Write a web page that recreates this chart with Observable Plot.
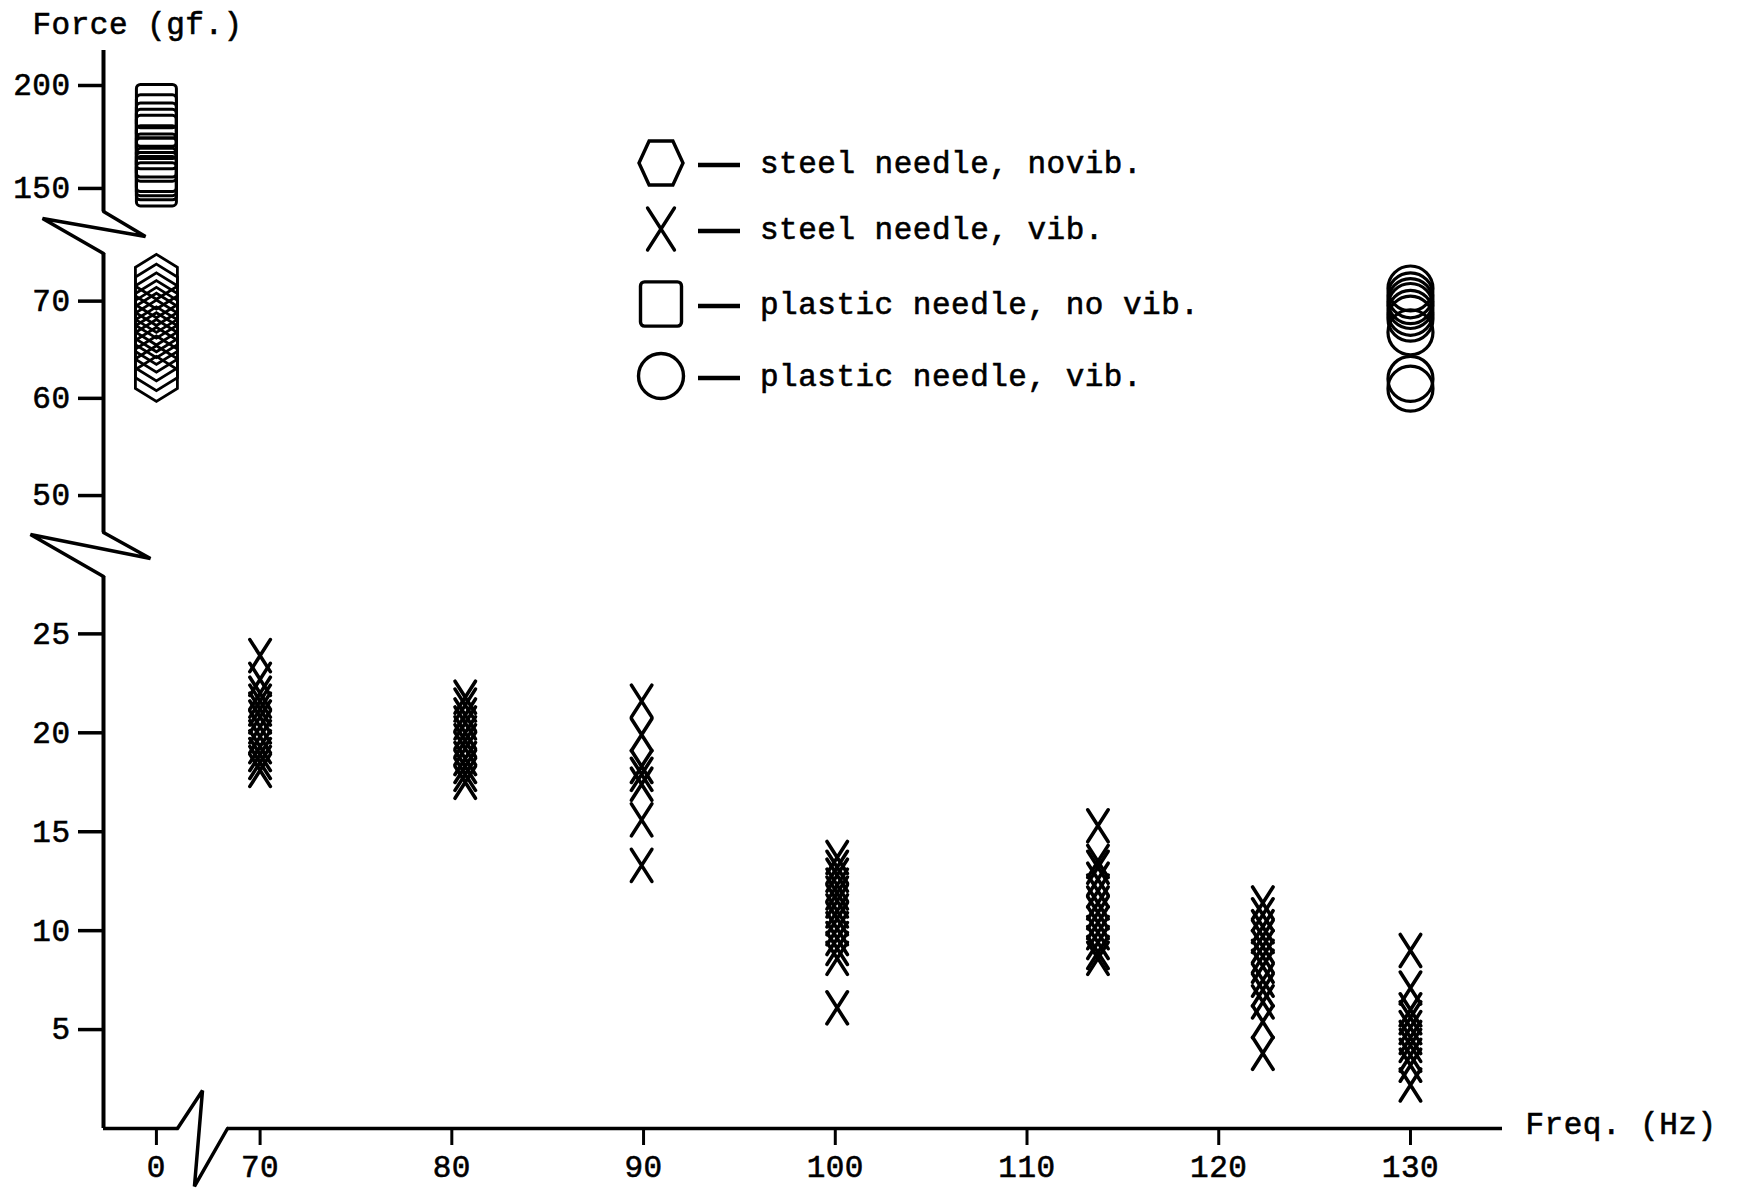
<!DOCTYPE html>
<html>
<head>
<meta charset="utf-8">
<script src="https://cdn.jsdelivr.net/npm/d3@7"></script>
<script src="https://cdn.jsdelivr.net/npm/@observablehq/plot@0.6"></script>
<style>
  html, body { margin: 0; padding: 0; background: #fff; }
  #wrap { position: relative; width: 1738px; height: 1189px; }
  svg text { letter-spacing: 0.5px; stroke: black; stroke-width: 0.6px; }
</style>
</head>
<body>
<div id="wrap"></div>
<script>
// ---------------- DATA ----------------
// steel needle, no vibration (hexagons) at 0 Hz
const steelNoVibFreq = 0;
const steelNoVibForce = [72.5, 71.5, 70.6, 69.8, 69.1, 68.5, 67.8, 67.1, 66.5, 65.8, 65.0, 64.1, 63.1, 62.0];

// plastic needle, no vibration (squares) at 0 Hz
const plasticNoVibFreq = 0;
const plasticNoVibForce = [190, 185, 181, 178, 175, 170, 166, 164, 159, 157, 155, 152];

// plastic needle, vibration (circles) at 130 Hz
const plasticVibFreq = 130;
const plasticVibForce = [71.3, 70.6, 70.0, 69.5, 68.8, 68.2, 66.8, 62.0, 61.0];

// steel needle, vibration (X) — one cluster per frequency
const steelVibFreq = [70.0, 80.7, 89.9, 100.1, 113.7, 122.3, 130.0];
const steelVibForce = [
  [23.9, 22.7, 22.0, 21.6, 21.2, 20.8, 20.3, 19.8, 19.3, 18.9, 18.5, 18.1],
  [21.8, 21.4, 20.9, 20.5, 20.0, 19.6, 19.2, 18.7, 18.3, 17.9, 17.5],
  [21.6, 19.9, 18.3, 17.9, 17.4, 15.6, 13.3],
  [13.7, 13.2, 12.8, 12.3, 11.9, 11.5, 11.0, 10.6, 10.1, 9.6, 9.1, 8.6, 6.1],
  [15.3, 13.5, 13.2, 12.6, 12.0, 11.4, 10.9, 10.4, 9.9, 9.4, 8.9, 8.6],
  [11.4, 10.8, 10.2, 9.7, 9.2, 8.7, 8.2, 7.5, 7.0, 6.4, 5.4, 3.8],
  [9.0, 7.1, 6.0, 5.6, 5.1, 4.6, 4.2, 3.7, 3.2, 2.2]
];

const xTicks = [0, 70, 80, 90, 100, 110, 120, 130];
const yTicks = [5, 10, 15, 20, 25, 50, 60, 70, 150, 200];
const legendLabels = ["steel needle, novib.", "steel needle, vib.", "plastic needle, no vib.", "plastic needle, vib."];
const xTitle = "Freq. (Hz)";
const yTitle = "Force (gf.)";

// ---------------- SCALES (broken axes as piecewise scales) ----------------
const xDomain = [-2.76, 1.1, 68.3, 134.8];
const xRange  = [103, 177, 227, 1502];
const yDomain = [0, 27.9, 46.2, 74.9, 138.8, 217];
const yRange  = [1128, 576, 532, 253, 211, 50];

const ySegments = [[0, 27.9], [46.2, 74.9], [138.8, 217]];
const xSegments = [[-2.76, 1.1], [68.3, 134.8]];
const breakUpper = [[-2.76, 138.8], [-0.57, 100.8], [-5.94, 128.1], [-2.76, 74.9]];
const breakLower = [[-2.76, 46.2], [-0.31, 35.4], [-6.57, 45.4], [-2.76, 27.9]];
const breakX     = [[1.1, 0], [34.7, 1.92], [23.9, -2.93], [68.3, 0]];

// ---------------- SYMBOLS ----------------
const tallX = { draw(ctx, size) {
  const r = Math.sqrt(size / Math.PI), w = 0.64 * r;
  ctx.moveTo(-w, -r); ctx.lineTo(w, r);
  ctx.moveTo(w, -r); ctx.lineTo(-w, r);
}};
const hexV = { draw(ctx, size) {
  const r = Math.sqrt(size / Math.PI), w = r, h = 1.07 * r, c = 0.62 * r;
  ctx.moveTo(0, -h); ctx.lineTo(w, -h + c); ctx.lineTo(w, h - c);
  ctx.lineTo(0, h); ctx.lineTo(-w, h - c); ctx.lineTo(-w, -h + c); ctx.closePath();
}};
const hexFlat = { draw(ctx, size) {
  const r = Math.sqrt(size / Math.PI), w = r, h = r, c = 0.46 * r;
  ctx.moveTo(-w, 0); ctx.lineTo(-w + c, -h); ctx.lineTo(w - c, -h);
  ctx.lineTo(w, 0); ctx.lineTo(w - c, h); ctx.lineTo(-w + c, h); ctx.closePath();
}};
const roundSquare = { draw(ctx, size) {
  const r = Math.sqrt(size / Math.PI), w = r, h = 1.08 * r, k = 0.2 * r;
  ctx.moveTo(-w + k, -h);
  ctx.lineTo(w - k, -h); ctx.arcTo(w, -h, w, -h + k, k);
  ctx.lineTo(w, h - k); ctx.arcTo(w, h, w - k, h, k);
  ctx.lineTo(-w + k, h); ctx.arcTo(-w, h, -w, h - k, k);
  ctx.lineTo(-w, -h + k); ctx.arcTo(-w, -h, -w + k, -h, k);
  ctx.closePath();
}};

// ---------------- TABLES ----------------
const steelVib = steelVibFreq.flatMap((f, i) => steelVibForce[i].map(v => ({freq: f, force: v})));
const steelNoVib = steelNoVibForce.map(v => ({freq: steelNoVibFreq, force: v}));
const plasticNoVib = plasticNoVibForce.map(v => ({freq: plasticNoVibFreq, force: v}));
const plasticVib = plasticVibForce.map(v => ({freq: plasticVibFreq, force: v}));

const FONT = "'Liberation Mono', 'DejaVu Sans Mono', monospace";
const line = (pts) => Plot.line(pts, {x: d => d[0], y: d => d[1], stroke: "black", strokeWidth: 3.5, strokeLinejoin: "miter", strokeLinecap: "round"});

const chart = Plot.plot({
  width: 1738,
  height: 1189,
  marginLeft: 103,
  marginTop: 50,
  marginRight: 0,
  marginBottom: 61,
  style: {fontFamily: FONT, fontSize: "31px", color: "black", background: "white", overflow: "visible"},
  x: {type: "linear", domain: xDomain, range: xRange},
  y: {type: "linear", domain: yDomain, range: yRange},
  marks: [
    // axis lines
    Plot.ruleX(ySegments, {x: () => xDomain[0], y1: d => d[0], y2: d => d[1], stroke: "black", strokeWidth: 4}),
    Plot.ruleY(xSegments, {y: () => 0, x1: d => d[0], x2: d => d[1], stroke: "black", strokeWidth: 3.5}),
    line(breakUpper), line(breakLower), line(breakX),
    Plot.axisY(yTicks, {anchor: "left", tickSize: 25, tickPadding: 8, strokeWidth: 3.5, label: null, fontSize: 31, tickFormat: d => String(d)}),
    Plot.axisX(xTicks, {anchor: "bottom", tickSize: 17, tickPadding: 9, strokeWidth: 3, label: null, fontSize: 31, tickFormat: d => String(d)}),
    Plot.text([yTitle], {text: d => d, frameAnchor: "top-left", textAnchor: "start", dx: -71, dy: -39, fontSize: 31}),
    Plot.text([xTitle], {text: d => d, frameAnchor: "bottom-right", textAnchor: "end", dx: -22, dy: 5, fontSize: 31}),
    // data
    Plot.dot(plasticNoVib, {x: "freq", y: "force", symbol: roundSquare, r: 20, fill: "none", stroke: "black", strokeWidth: 3}),
    Plot.dot(steelNoVib, {x: "freq", y: "force", symbol: hexV, r: 21, fill: "none", stroke: "black", strokeWidth: 2.8}),
    Plot.dot(plasticVib, {x: "freq", y: "force", symbol: "circle", r: 22.5, fill: "none", stroke: "black", strokeWidth: 3.2}),
    Plot.dot(steelVib, {x: "freq", y: "force", symbol: tallX, r: 16, fill: "none", stroke: "black", strokeWidth: 3.6, strokeLinecap: "round"})
  ]
});
document.getElementById("wrap").append(chart);

// ---------------- LEGEND ----------------
const svg = d3.select(chart.tagName.toLowerCase() === "svg" ? chart : chart.querySelector("svg"));
const lg = svg.append("g").attr("font-family", FONT).attr("font-size", 31).attr("fill", "black").attr("text-anchor", "start");
const legendSymbols = [hexFlat, tallX, roundSquare, d3.symbolCircle];
const legendR = [22, 21, 20.5, 22.5];
const legendRowY = [163, 229, 304, 376];
legendLabels.forEach((lab, i) => {
  const y = legendRowY[i];
  const r = legendR[i];
  lg.append("path")
    .attr("transform", `translate(661,${y})`)
    .attr("d", d3.symbol(legendSymbols[i], r * r * Math.PI)())
    .attr("fill", "none").attr("stroke", "black").attr("stroke-width", 3.4).attr("stroke-linecap", "round");
  lg.append("line").attr("x1", 698).attr("x2", 740).attr("y1", y + 2).attr("y2", y + 2)
    .attr("stroke", "black").attr("stroke-width", 4.5);
  lg.append("text").attr("x", 760).attr("y", y + 10).attr("text-anchor", "start").text(lab);
});
</script>
</body>
</html>
